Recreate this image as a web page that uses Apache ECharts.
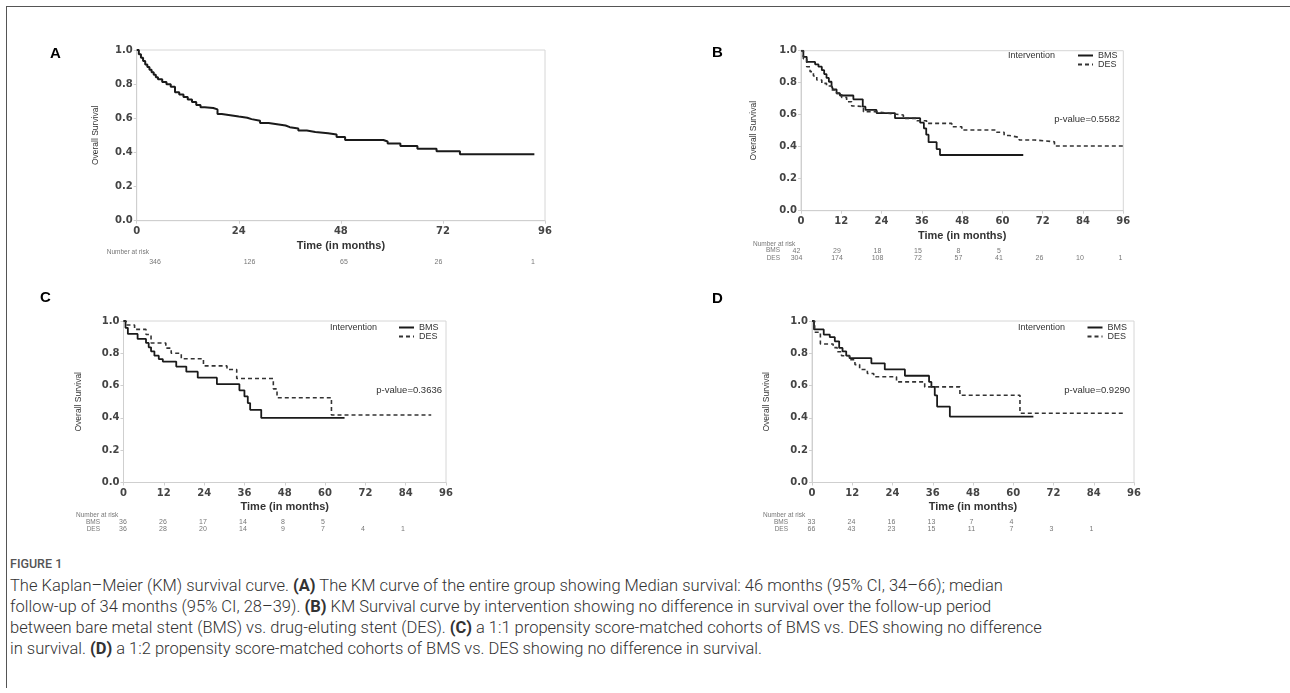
<!DOCTYPE html>
<html>
<head>
<meta charset="utf-8">
<title>Kaplan-Meier survival curves</title>
<script src="https://cdn.jsdelivr.net/npm/echarts/dist/echarts.min.js"></script>
<style>
html, body { margin: 0; padding: 0; background: #fff; }
#wrap { position: relative; width: 1290px; height: 693px; overflow: hidden; }
#frame { position: absolute; left: 6px; top: 6px; width: 1300px; height: 681px;
         border-top: 1.5px solid #555; border-left: 1.5px solid #555; }
#chart { position: absolute; left: 0; top: 0; width: 1290px; height: 545px; }
#fig { position: absolute; left: 10px; top: 557px; font-family: Roboto, sans-serif;
       font-size: 12.5px; font-weight: 500; line-height: 14px; color: #555; }
#cap { position: absolute; left: 10px; top: 575px; font-family: Roboto, sans-serif;
       font-weight: 300; font-size: 16.5px; line-height: 21px; color: #333; white-space: nowrap; }
#cap b { font-weight: 700; }
</style>
</head>
<body>
<div id="wrap">
  <div id="frame"></div>
  <div id="chart"></div>
  <div id="fig">FIGURE 1</div>
  <div id="cap">The Kaplan–Meier (KM) survival curve. <b>(A)</b> The KM curve of the entire group showing Median survival: 46 months (95% CI, 34–66); median<br>follow-up of 34 months (95% CI, 28–39). <b>(B)</b> KM Survival curve by intervention showing no difference in survival over the follow-up period<br>between bare metal stent (BMS) vs. drug-eluting stent (DES). <b>(C)</b> a 1:1 propensity score-matched cohorts of BMS vs. DES showing no difference<br>in survival. <b>(D)</b> a 1:2 propensity score-matched cohorts of BMS vs. DES showing no difference in survival.</div>
</div>
<script>
// A: whole group
var timeA = [0, 0.5, 1, 1.5, 2, 2.5, 3, 3.5, 4, 4.5, 5, 6, 7, 8, 9, 10, 11, 12, 13, 14, 15, 16, 18, 19, 20, 22, 24, 26, 27, 29, 31, 33, 35, 36, 38, 40, 42, 45, 47, 49, 58, 59, 62, 66, 70.5, 76, 93.5];
var survA = [1.0, 0.975, 0.955, 0.935, 0.915, 0.9, 0.885, 0.87, 0.855, 0.84, 0.828, 0.812, 0.8, 0.785, 0.752, 0.74, 0.725, 0.71, 0.695, 0.678, 0.665, 0.66, 0.652, 0.625, 0.618, 0.61, 0.603, 0.595, 0.585, 0.572, 0.565, 0.558, 0.548, 0.54, 0.528, 0.52, 0.512, 0.505, 0.49, 0.473, 0.464, 0.452, 0.437, 0.422, 0.407, 0.39, 0.39];

// B: by intervention
var timeB_BMS = [0, 0.7, 1.7, 4.2, 5.2, 6.2, 6.9, 7.6, 8.3, 9.1, 9.5, 10.6, 11.6, 15.6, 18.4, 19.2, 22.5, 28, 35.5, 36.6, 37.3, 38, 40.4, 41.4, 66.2];
var survB_BMS = [1.0, 0.962, 0.93, 0.915, 0.9, 0.878, 0.854, 0.83, 0.806, 0.782, 0.758, 0.734, 0.72, 0.696, 0.65, 0.63, 0.61, 0.578, 0.55, 0.515, 0.475, 0.428, 0.385, 0.348, 0.348];
var timeB_DES = [0, 0.7, 1.7, 2.7, 3.7, 4.7, 6.2, 7.6, 9.1, 10.6, 12.1, 13.6, 15.1, 16.6, 18.6, 22.5, 26.5, 30.5, 34.5, 37.4, 44.9, 47.9, 58.3, 60.5, 62, 65, 69.5, 75.5, 96];
var survB_DES = [1.0, 0.95, 0.9, 0.869, 0.842, 0.817, 0.796, 0.779, 0.754, 0.733, 0.708, 0.681, 0.654, 0.65, 0.619, 0.608, 0.598, 0.577, 0.5625, 0.546, 0.525, 0.504, 0.49, 0.47, 0.458, 0.442, 0.431, 0.404, 0.404];

// C: 1:1 matched
var timeC_BMS = [0, 0.6, 1.3, 4.2, 6.7, 7.5, 8.2, 9.2, 10.5, 11.7, 15.7, 18.7, 22.1, 27.8, 34.5, 36, 37, 37.7, 41, 65.8];
var survC_BMS = [1.0, 0.958, 0.92, 0.889, 0.864, 0.837, 0.812, 0.785, 0.764, 0.749, 0.718, 0.686, 0.649, 0.609, 0.571, 0.533, 0.492, 0.45, 0.4, 0.4];
var timeC_DES = [0, 0.8, 3.3, 6.7, 8.2, 12.6, 14.2, 17.2, 23.8, 30.8, 33.7, 44.6, 45.7, 61.9, 91.6];
var survC_DES = [1.0, 0.975, 0.948, 0.916, 0.864, 0.832, 0.8, 0.766, 0.722, 0.7, 0.644, 0.58, 0.525, 0.418, 0.418];

// D: 1:2 matched
var timeD_BMS = [0, 0.6, 3.5, 5.3, 6.8, 8.1, 9.1, 10.2, 11.2, 17.7, 21.7, 27.7, 34.9, 35.6, 36.6, 37.3, 41.1, 66];
var survD_BMS = [1.0, 0.948, 0.916, 0.9, 0.874, 0.833, 0.812, 0.785, 0.77, 0.738, 0.7, 0.661, 0.623, 0.592, 0.54, 0.47, 0.408, 0.408];
var timeD_DES = [0, 0.8, 2.5, 6.3, 7.5, 8.8, 11.2, 12.8, 14.2, 16.5, 18.4, 25.2, 33.6, 44.1, 62, 92.8];
var survD_DES = [1.0, 0.93, 0.858, 0.835, 0.81, 0.785, 0.76, 0.73, 0.7, 0.675, 0.655, 0.623, 0.592, 0.54, 0.429, 0.429];

// number at risk
var riskA = [346, 126, 65, 26, 1];
var riskB_BMS = [42, 29, 18, 15, 8, 5];
var riskB_DES = [304, 174, 108, 72, 57, 41, 26, 10, 1];
var riskC_BMS = [36, 26, 17, 14, 8, 5];
var riskC_DES = [36, 28, 20, 14, 9, 7, 4, 1];
var riskD_BMS = [33, 24, 16, 13, 7, 4];
var riskD_DES = [66, 43, 23, 15, 11, 7, 3, 1];

var pValues = ['p-value=0.5582', 'p-value=0.3636', 'p-value=0.9290'];

function pairs(t, s) {
    return t.map(function (v, i) { return [v, s[i]]; });
}

var grey = '#cfcfcf';

function mainX(g, step, gap) {
    return {
        gridIndex: g, type: 'value', min: 0, max: 96, interval: step,
        axisLine: { show: true, lineStyle: { color: grey } },
        axisTick: { show: true, length: 3, lineStyle: { color: grey } },
        splitLine: { show: false },
        axisLabel: { color: '#444', fontSize: 10, fontWeight: 'bold', fontFamily: 'DejaVu Sans', margin: 6,
                     showMinLabel: true, showMaxLabel: true },
        name: 'Time (in months)', nameLocation: 'middle', nameGap: gap,
        nameTextStyle: { fontFamily: 'Liberation Sans', fontWeight: 'bold', fontSize: 11, color: '#333' }
    };
}
function mainY(g, gap) {
    return {
        gridIndex: g, type: 'value', min: 0, max: 1, interval: 0.2,
        axisLine: { show: true, lineStyle: { color: grey } },
        axisTick: { show: true, length: 3, lineStyle: { color: grey } },
        splitLine: { show: false },
        axisLabel: { color: '#444', fontSize: 10, fontWeight: 'bold', fontFamily: 'DejaVu Sans', margin: 4,
                     formatter: function (v) { return v.toFixed(1); } },
        name: 'Overall Survival', nameLocation: 'middle', nameGap: gap,
        nameTextStyle: { fontFamily: 'Liberation Sans', fontSize: 8.5, color: '#333' }
    };
}
function riskX(g, arr, step, offset) {
    return {
        gridIndex: g, type: 'value', min: 0, max: 96, interval: step, position: 'bottom', offset: offset,
        axisLine: { show: false }, axisTick: { show: false }, splitLine: { show: false },
        axisLabel: { margin: 0, fontSize: 7, color: '#777', fontFamily: 'Liberation Sans',
                     showMinLabel: true, showMaxLabel: true,
                     formatter: function (v) { var i = Math.round(v / step); return arr[i] == null ? '' : String(arr[i]); } }
    };
}
function riskY(g) {
    return { gridIndex: g, type: 'value', show: false };
}
function km(name, xi, t, s, dashed, w) {
    var c = dashed ? '#333' : '#1a1a1a';
    return {
        name: name, type: 'line', step: 'end', symbol: 'none', xAxisIndex: xi, yAxisIndex: xi,
        data: pairs(t, s), color: c,
        lineStyle: { color: c, width: w, type: dashed ? [4, 3] : 'solid' }
    };
}
function txt(x, y, s, size, color, align, weight, family) {
    return { type: 'text', x: x, y: y, silent: true,
             style: { text: s, fontSize: size, fill: color, align: align || 'left', verticalAlign: 'middle',
                      fontWeight: weight || 'normal', fontFamily: family || 'Liberation Sans' } };
}
function legendAt(left, top) {
    // symbol hidden: only the line sample is kept, as in the figure
    return { orient: 'vertical', left: left, top: top, padding: 0, itemGap: 0, itemWidth: 15, itemHeight: 8,
             itemStyle: { opacity: 0 },
             data: ['BMS', 'DES'], textStyle: { fontSize: 9, color: '#333', lineHeight: 9, fontFamily: 'Liberation Sans' } };
}

var gridBox = { show: true, borderColor: '#d6d6d6', borderWidth: 1 };

var option = {
    animation: false,
    grid: [
        Object.assign({ left: 136.7, top: 50, width: 408.3, height: 170.7 }, gridBox),
        Object.assign({ left: 801, top: 50.7, width: 322.3, height: 160 }, gridBox),
        Object.assign({ left: 123.5, top: 321, width: 322.5, height: 161.5 }, gridBox),
        Object.assign({ left: 812, top: 321, width: 322, height: 161.5 }, gridBox),
        { left: 155, top: 257.5, width: 378, height: 1 },
        { left: 796.5, top: 246.2, width: 324, height: 1 },
        { left: 123, top: 517.5, width: 320, height: 1 },
        { left: 811.5, top: 517.5, width: 320, height: 1 }
    ],
    xAxis: [
        mainX(0, 24, 19.5), mainX(1, 12, 20), mainX(2, 12, 19), mainX(3, 12, 19),
        riskX(4, riskA, 24, 0),
        riskX(5, riskB_BMS, 12, 0), riskX(5, riskB_DES, 12, 7.6),
        riskX(6, riskC_BMS, 12, 0), riskX(6, riskC_DES, 12, 7.5),
        riskX(7, riskD_BMS, 12, 0), riskX(7, riskD_DES, 12, 7.5)
    ],
    yAxis: [
        mainY(0, 37), mainY(1, 42.5), mainY(2, 40.5), mainY(3, 41),
        riskY(4), riskY(5), riskY(6), riskY(7)
    ],
    legend: [legendAt(1077, 51), legendAt(398, 323), legendAt(1086.5, 323)],
    series: [
        km('Overall', 0, timeA, survA, false, 2),
        km('BMS', 1, timeB_BMS, survB_BMS, false, 1.8),
        km('DES', 1, timeB_DES, survB_DES, true, 1.6),
        km('BMS', 2, timeC_BMS, survC_BMS, false, 1.8),
        km('DES', 2, timeC_DES, survC_DES, true, 1.6),
        km('BMS', 3, timeD_BMS, survD_BMS, false, 1.8),
        km('DES', 3, timeD_DES, survD_DES, true, 1.6)
    ],
    graphic: [
        txt(50, 54, 'A', 15, '#000', 'left', 'bold'),
        txt(712, 53, 'B', 15, '#000', 'left', 'bold'),
        txt(40, 298, 'C', 15, '#000', 'left', 'bold'),
        txt(712, 299, 'D', 15, '#000', 'left', 'bold'),

        txt(1008, 56, 'Intervention', 9, '#333'),
        txt(330, 327.7, 'Intervention', 9, '#333'),
        txt(1018, 327.7, 'Intervention', 9, '#333'),

        txt(1120, 119.3, pValues[0], 9.5, '#333', 'right'),
        txt(442, 390.7, pValues[1], 9.5, '#333', 'right'),
        txt(1130, 390.7, pValues[2], 9.5, '#333', 'right'),

        txt(106.7, 252, 'Number at risk', 6.5, '#777'),
        txt(753, 244, 'Number at risk', 6.5, '#777'),
        txt(76, 515, 'Number at risk', 6.5, '#777'),
        txt(763, 515, 'Number at risk', 6.5, '#777'),

        txt(780, 250.7, 'BMS', 6.5, '#777', 'right'),
        txt(780, 258.3, 'DES', 6.5, '#777', 'right'),
        txt(100, 522, 'BMS', 6.5, '#777', 'right'),
        txt(100, 529.5, 'DES', 6.5, '#777', 'right'),
        txt(788, 522, 'BMS', 6.5, '#777', 'right'),
        txt(788, 529.5, 'DES', 6.5, '#777', 'right')
    ]
};

var chart = echarts.init(document.getElementById('chart'), null, { renderer: 'canvas' });
chart.setOption(option);
</script>
</body>
</html>
